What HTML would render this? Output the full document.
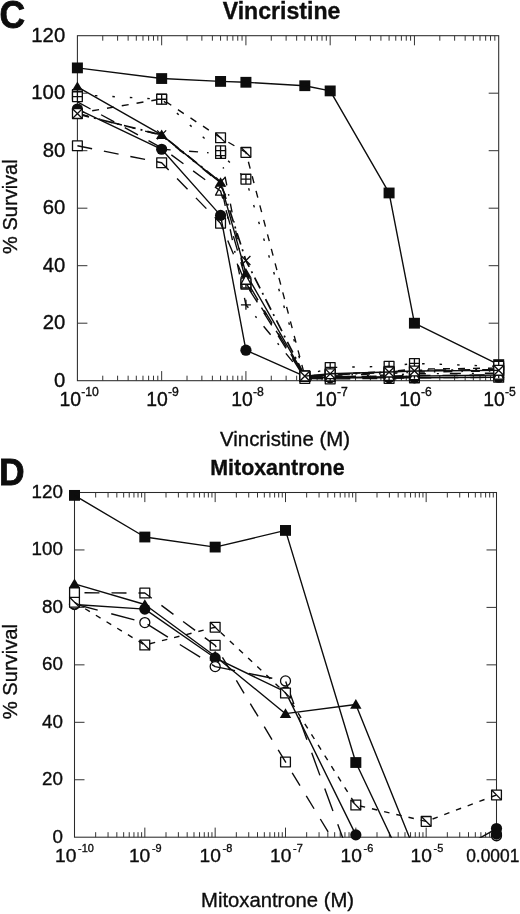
<!DOCTYPE html>
<html lang="en"><head><meta charset="utf-8"><title>Vincristine / Mitoxantrone survival curves</title>
<style>
html,body{margin:0;padding:0;background:#fff;}
body{width:520px;height:914px;overflow:hidden;}
svg{display:block;}
text{font-family:"Liberation Sans",Arial,Helvetica,sans-serif;fill:#0d0d0d;stroke:#0d0d0d;stroke-width:0.35px;}
.title{font-weight:bold;}
.letter{font-weight:bold;stroke-width:0.8px;}
.om{fill:#fff;stroke:#0d0d0d;stroke-width:1.3;}
.ol{fill:none;stroke:#0d0d0d;stroke-width:1.3;}
</style></head><body>
<svg width="520" height="914" viewBox="0 0 520 914">
<rect width="520" height="914" fill="#fff"/>
<g id="C">
<clipPath id="clipC"><rect x="69.4" y="27.7" width="437.3" height="353.6"/></clipPath>
<rect x="77.4" y="35.7" width="421.3" height="345" fill="none" stroke="#2a2a2a" stroke-width="1.05"/>
<path d="M102.76 35.7v5M102.76 380.7v-5M117.6 35.7v5M117.6 380.7v-5M128.13 35.7v5M128.13 380.7v-5M136.3 35.7v5M136.3 380.7v-5M142.97 35.7v5M142.97 380.7v-5M148.61 35.7v5M148.61 380.7v-5M153.49 35.7v5M153.49 380.7v-5M157.8 35.7v5M157.8 380.7v-5M161.66 35.7v9.6M161.66 380.7v-9.6M187.02 35.7v5M187.02 380.7v-5M201.86 35.7v5M201.86 380.7v-5M212.39 35.7v5M212.39 380.7v-5M220.56 35.7v5M220.56 380.7v-5M227.23 35.7v5M227.23 380.7v-5M232.87 35.7v5M232.87 380.7v-5M237.75 35.7v5M237.75 380.7v-5M242.06 35.7v5M242.06 380.7v-5M245.92 35.7v9.6M245.92 380.7v-9.6M271.28 35.7v5M271.28 380.7v-5M286.12 35.7v5M286.12 380.7v-5M296.65 35.7v5M296.65 380.7v-5M304.82 35.7v5M304.82 380.7v-5M311.49 35.7v5M311.49 380.7v-5M317.13 35.7v5M317.13 380.7v-5M322.01 35.7v5M322.01 380.7v-5M326.32 35.7v5M326.32 380.7v-5M330.18 35.7v9.6M330.18 380.7v-9.6M355.54 35.7v5M355.54 380.7v-5M370.38 35.7v5M370.38 380.7v-5M380.91 35.7v5M380.91 380.7v-5M389.08 35.7v5M389.08 380.7v-5M395.75 35.7v5M395.75 380.7v-5M401.39 35.7v5M401.39 380.7v-5M406.27 35.7v5M406.27 380.7v-5M410.58 35.7v5M410.58 380.7v-5M414.44 35.7v9.6M414.44 380.7v-9.6M439.8 35.7v5M439.8 380.7v-5M454.64 35.7v5M454.64 380.7v-5M465.17 35.7v5M465.17 380.7v-5M473.34 35.7v5M473.34 380.7v-5M480.01 35.7v5M480.01 380.7v-5M485.65 35.7v5M485.65 380.7v-5M490.53 35.7v5M490.53 380.7v-5M494.84 35.7v5M494.84 380.7v-5M77.4 323.2h10M498.7 323.2h-10M77.4 265.7h10M498.7 265.7h-10M77.4 208.2h10M498.7 208.2h-10M77.4 150.7h10M498.7 150.7h-10M77.4 93.2h10M498.7 93.2h-10" stroke="#333" stroke-width="1" fill="none"/>
<text x="65.2" y="386.7" text-anchor="end" font-size="20.3">0</text>
<text x="65.2" y="329.2" text-anchor="end" font-size="20.3">20</text>
<text x="65.2" y="271.7" text-anchor="end" font-size="20.3">40</text>
<text x="65.2" y="214.2" text-anchor="end" font-size="20.3">60</text>
<text x="65.2" y="156.7" text-anchor="end" font-size="20.3">80</text>
<text x="65.2" y="99.2" text-anchor="end" font-size="20.3">100</text>
<text x="65.2" y="41.7" text-anchor="end" font-size="20.3">120</text>
<text x="59.4" y="406.1" font-size="19.4">10<tspan dy="-10.3" dx="0.2" font-size="12.2">-10</tspan></text>
<text x="146.2" y="406.1" font-size="19.4">10<tspan dy="-10.3" dx="0.2" font-size="12.2">-9</tspan></text>
<text x="231.2" y="406.1" font-size="19.4">10<tspan dy="-10.3" dx="0.2" font-size="12.2">-8</tspan></text>
<text x="315.2" y="406.1" font-size="19.4">10<tspan dy="-10.3" dx="0.2" font-size="12.2">-7</tspan></text>
<text x="399.2" y="406.1" font-size="19.4">10<tspan dy="-10.3" dx="0.2" font-size="12.2">-6</tspan></text>
<text x="483.2" y="406.1" font-size="19.4">10<tspan dy="-10.3" dx="0.2" font-size="12.2">-5</tspan></text>
<g fill="none" stroke="#0d0d0d" stroke-width="1.4" stroke-linejoin="round">
<g stroke="none"><rect x="72.5" y="140.91" width="9.8" height="9.8" class="om"/><rect x="156.76" y="157.87" width="9.8" height="9.8" class="om"/><rect x="215.66" y="218.25" width="9.8" height="9.8" class="om"/><rect x="241.02" y="279.2" width="9.8" height="9.8" class="om"/><rect x="299.92" y="373.5" width="9.8" height="9.8" class="om"/><rect x="325.28" y="374.07" width="9.8" height="9.8" class="om"/><rect x="384.18" y="373.5" width="9.8" height="9.8" class="om"/><rect x="409.54" y="372.93" width="9.8" height="9.8" class="om"/><rect x="493.8" y="372.35" width="9.8" height="9.8" class="om"/></g>
<path clip-path="url(#clipC)" d="M77.4 145.81L161.66 162.77L220.56 223.15L245.92 284.1L304.82 378.4L330.18 378.97L389.08 378.4L414.44 377.82L498.7 377.25" stroke-dasharray="15 12"/>
<g stroke="none"><rect x="71.9" y="62.5" width="11" height="10.8" fill="#0d0d0d"/><rect x="156.16" y="73.14" width="11" height="10.8" fill="#0d0d0d"/><rect x="215.06" y="76.01" width="11" height="10.8" fill="#0d0d0d"/><rect x="240.42" y="76.87" width="11" height="10.8" fill="#0d0d0d"/><rect x="299.32" y="80.32" width="11" height="10.8" fill="#0d0d0d"/><rect x="324.68" y="85.5" width="11" height="10.8" fill="#0d0d0d"/><rect x="383.58" y="187.56" width="11" height="10.8" fill="#0d0d0d"/><rect x="408.94" y="317.8" width="11" height="10.8" fill="#0d0d0d"/><rect x="493.2" y="359.2" width="11" height="10.8" fill="#0d0d0d"/></g>
<path clip-path="url(#clipC)" d="M77.4 67.9L161.66 78.54L220.56 81.41L245.92 82.27L304.82 85.72L330.18 90.9L389.08 192.96L414.44 323.2L498.7 364.6"/>
<g stroke="none"><path d="M77.4 81.47L83.1 91.08L71.7 91.08Z" fill="#0d0d0d"/><path d="M161.66 129.49L167.36 139.09L155.96 139.09Z" fill="#0d0d0d"/><path d="M220.56 177.21L226.26 186.81L214.86 186.81Z" fill="#0d0d0d"/><path d="M245.92 268.06L251.62 277.66L240.22 277.66Z" fill="#0d0d0d"/><path d="M304.82 370.99L310.52 380.59L299.12 380.59Z" fill="#0d0d0d"/><path d="M330.18 372.43L335.88 382.02L324.48 382.02Z" fill="#0d0d0d"/><path d="M389.08 371.28L394.78 380.88L383.38 380.88Z" fill="#0d0d0d"/><path d="M414.44 370.7L420.14 380.3L408.74 380.3Z" fill="#0d0d0d"/><path d="M498.7 369.55L504.4 379.15L493 379.15Z" fill="#0d0d0d"/></g>
<path clip-path="url(#clipC)" d="M77.4 86.88L161.66 134.89L220.56 182.61L245.92 273.46L304.82 376.39L330.18 377.82L389.08 376.68L414.44 376.1L498.7 374.95"/>
<g stroke="none"><circle cx="77.4" cy="109.01" r="5.6" fill="#0d0d0d"/><circle cx="161.66" cy="149.26" r="5.6" fill="#0d0d0d"/><circle cx="220.56" cy="215.39" r="5.6" fill="#0d0d0d"/><circle cx="245.92" cy="350.22" r="5.6" fill="#0d0d0d"/><circle cx="304.82" cy="376.39" r="5.6" fill="#0d0d0d"/><circle cx="330.18" cy="377.82" r="5.6" fill="#0d0d0d"/><circle cx="389.08" cy="377.82" r="5.6" fill="#0d0d0d"/><circle cx="414.44" cy="377.82" r="5.6" fill="#0d0d0d"/><circle cx="498.7" cy="377.25" r="5.6" fill="#0d0d0d"/></g>
<path clip-path="url(#clipC)" d="M77.4 109.01L161.66 149.26L220.56 215.39L245.92 350.22L304.82 376.39L330.18 377.82L389.08 377.82L414.44 377.82L498.7 377.25"/>
<g stroke="none"><g><rect x="156.76" y="94.05" width="9.8" height="9.8" class="om"/><path d="M156.76 94.05L166.56 103.85" class="ol"/></g><g><rect x="215.66" y="132.86" width="9.8" height="9.8" class="om"/><path d="M215.66 132.86L225.46 142.66" class="ol"/></g><g><rect x="241.02" y="147.52" width="9.8" height="9.8" class="om"/><path d="M241.02 147.52L250.82 157.32" class="ol"/></g><g><rect x="299.92" y="371.2" width="9.8" height="9.8" class="om"/><path d="M299.92 371.2L309.72 381" class="ol"/></g><g><rect x="325.28" y="369.48" width="9.8" height="9.8" class="om"/><path d="M325.28 369.48L335.08 379.27" class="ol"/></g><g><rect x="384.18" y="366.6" width="9.8" height="9.8" class="om"/><path d="M384.18 366.6L393.98 376.4" class="ol"/></g><g><rect x="409.54" y="364.3" width="9.8" height="9.8" class="om"/><path d="M409.54 364.3L419.34 374.1" class="ol"/></g><g><rect x="493.8" y="363.15" width="9.8" height="9.8" class="om"/><path d="M493.8 363.15L503.6 372.95" class="ol"/></g></g>
<path clip-path="url(#clipC)" d="M77.4 113.32L161.66 98.95L220.56 137.76L245.92 152.42L304.82 376.1L330.18 374.38L389.08 371.5L414.44 369.2L498.7 368.05" stroke-dasharray="7 8"/>
<g stroke="none"><g><rect x="72.5" y="89.74" width="9.8" height="9.8" class="om"/><path d="M72.5 94.64H82.3M77.4 89.74V99.54" class="ol"/></g><g><rect x="156.76" y="94.34" width="9.8" height="9.8" class="om"/><path d="M156.76 99.24H166.56M161.66 94.34V104.14" class="ol"/></g><g><rect x="215.66" y="148.1" width="9.8" height="9.8" class="om"/><path d="M215.66 153H225.46M220.56 148.1V157.9" class="ol"/></g><g><rect x="241.02" y="174.26" width="9.8" height="9.8" class="om"/><path d="M241.02 179.16H250.82M245.92 174.26V184.06" class="ol"/></g><g><rect x="299.92" y="371.2" width="9.8" height="9.8" class="om"/><path d="M299.92 376.1H309.72M304.82 371.2V381" class="ol"/></g><g><rect x="325.28" y="362.57" width="9.8" height="9.8" class="om"/><path d="M325.28 367.47H335.08M330.18 362.57V372.37" class="ol"/></g><g><rect x="384.18" y="361.43" width="9.8" height="9.8" class="om"/><path d="M384.18 366.32H393.98M389.08 361.43V371.22" class="ol"/></g><g><rect x="409.54" y="358.55" width="9.8" height="9.8" class="om"/><path d="M409.54 363.45H419.34M414.44 358.55V368.35" class="ol"/></g><g><rect x="493.8" y="361.43" width="9.8" height="9.8" class="om"/><path d="M493.8 366.32H503.6M498.7 361.43V371.22" class="ol"/></g></g>
<path clip-path="url(#clipC)" d="M77.4 94.64L161.66 99.24L220.56 153L245.92 179.16L304.82 376.1L330.18 367.47L389.08 366.32L414.44 363.45L498.7 366.32" stroke-dasharray="2.5 15"/>
<g stroke="none"><g><rect x="215.66" y="148.67" width="9.8" height="9.8" class="om"/><path d="M215.66 153.57H225.46M220.56 148.67V158.47" class="ol"/></g><g><rect x="241.02" y="278.05" width="9.8" height="9.8" class="om"/><path d="M241.02 282.95H250.82M245.92 278.05V287.85" class="ol"/></g><g><rect x="299.92" y="371.49" width="9.8" height="9.8" class="om"/><path d="M299.92 376.39H309.72M304.82 371.49V381.29" class="ol"/></g><g><rect x="325.28" y="370.62" width="9.8" height="9.8" class="om"/><path d="M325.28 375.52H335.08M330.18 370.62V380.42" class="ol"/></g><g><rect x="384.18" y="368.61" width="9.8" height="9.8" class="om"/><path d="M384.18 373.51H393.98M389.08 368.61V378.41" class="ol"/></g><g><rect x="409.54" y="367.18" width="9.8" height="9.8" class="om"/><path d="M409.54 372.07H419.34M414.44 367.18V376.97" class="ol"/></g><g><rect x="493.8" y="366.03" width="9.8" height="9.8" class="om"/><path d="M493.8 370.93H503.6M498.7 366.03V375.82" class="ol"/></g></g>
<path clip-path="url(#clipC)" d="M161.66 149.26L220.56 153.57L245.92 282.95L304.82 376.39L330.18 375.52L389.08 373.51L414.44 372.07L498.7 370.93" stroke-dasharray="9 9 1.5 8"/>
<g stroke="none"><g><rect x="72.5" y="91.75" width="9.8" height="9.8" class="om"/><path d="M72.5 96.65H82.3M77.4 91.75V101.55" class="ol"/></g><g><rect x="215.66" y="145.8" width="9.8" height="9.8" class="om"/><path d="M215.66 150.7H225.46M220.56 145.8V155.6" class="ol"/></g></g>
<g stroke="none"><path d="M220.56 185.75L225.56 195.15L215.56 195.15Z" class="om"/><path d="M245.92 274.88L250.92 284.27L240.92 284.27Z" class="om"/><path d="M304.82 372.05L309.82 381.45L299.82 381.45Z" class="om"/><path d="M330.18 371.48L335.18 380.88L325.18 380.88Z" class="om"/><path d="M389.08 370.9L394.08 380.3L384.08 380.3Z" class="om"/><path d="M414.44 370.32L419.44 379.72L409.44 379.72Z" class="om"/><path d="M498.7 369.75L503.7 379.15L493.7 379.15Z" class="om"/></g>
<path clip-path="url(#clipC)" d="M77.4 101.82L161.66 147.82L220.56 190.95L245.92 280.07L304.82 377.25L330.18 376.68L389.08 376.1L414.44 375.52L498.7 374.95" stroke-dasharray="15 12"/>
<g stroke="none"><path d="M240.92 304.8H250.92M245.92 299.8V309.8" class="ol"/><path d="M299.82 376.39H309.82M304.82 371.39V381.39" class="ol"/><path d="M325.18 377.25H335.18M330.18 372.25V382.25" class="ol"/><path d="M384.08 374.95H394.08M389.08 369.95V379.95" class="ol"/><path d="M409.44 373.8H419.44M414.44 368.8V378.8" class="ol"/><path d="M493.7 373.22H503.7M498.7 368.22V378.22" class="ol"/></g>
<path clip-path="url(#clipC)" d="M77.4 113.32L161.66 135.46L220.56 183.19L245.92 304.8L304.82 376.39L330.18 377.25L389.08 374.95L414.44 373.8L498.7 373.22" stroke-dasharray="11 11 2 11"/>
<g stroke="none"><path d="M72.9 109.4L81.9 118.4M72.9 118.4L81.9 109.4" class="ol"/><path d="M157.16 130.39L166.16 139.39M157.16 139.39L166.16 130.39" class="ol"/><path d="M216.06 177.54L225.06 186.54M216.06 186.54L225.06 177.54" class="ol"/><path d="M241.42 256.02L250.42 265.02M241.42 265.02L250.42 256.02" class="ol"/><path d="M300.32 371.6L309.32 380.6M300.32 380.6L309.32 371.6" class="ol"/><path d="M325.68 370.45L334.68 379.45M325.68 379.45L334.68 370.45" class="ol"/><path d="M384.58 367.57L393.58 376.57M384.58 376.57L393.58 367.57" class="ol"/><path d="M409.94 365.85L418.94 374.85M409.94 374.85L418.94 365.85" class="ol"/><path d="M494.2 365.27L503.2 374.27M494.2 374.27L503.2 365.27" class="ol"/></g>
<path clip-path="url(#clipC)" d="M77.4 113.9L161.66 134.89L220.56 182.04L245.92 260.52L304.82 376.1L330.18 374.95L389.08 372.07L414.44 370.35L498.7 369.77" stroke-dasharray="12 5 2 5" stroke-width="1.7"/>
<g stroke="none"><g><rect x="72.5" y="108.71" width="9.8" height="9.8" class="om"/><path d="M72.5 108.71L82.3 118.51M72.5 118.51L82.3 108.71" class="ol"/></g><g><rect x="299.92" y="371.2" width="9.8" height="9.8" class="om"/><path d="M299.92 371.2L309.72 381M299.92 381L309.72 371.2" class="ol"/></g><g><rect x="325.28" y="368.9" width="9.8" height="9.8" class="om"/><path d="M325.28 368.9L335.08 378.7M325.28 378.7L335.08 368.9" class="ol"/></g><g><rect x="384.18" y="367.18" width="9.8" height="9.8" class="om"/><path d="M384.18 367.18L393.98 376.97M384.18 376.97L393.98 367.18" class="ol"/></g><g><rect x="409.54" y="366.03" width="9.8" height="9.8" class="om"/><path d="M409.54 366.03L419.34 375.82M409.54 375.82L419.34 366.03" class="ol"/></g><g><rect x="493.8" y="365.45" width="9.8" height="9.8" class="om"/><path d="M493.8 365.45L503.6 375.25M493.8 375.25L503.6 365.45" class="ol"/></g></g>
<path clip-path="url(#clipC)" d="M304.82 376.1L330.18 373.8L389.08 372.07L414.44 370.93L498.7 370.35"/>
</g>
<text transform="translate(-0.6 27.6) scale(0.92 1)" class="letter" font-size="38.6">C</text>
<text x="281.5" y="19.2" text-anchor="middle" class="title" font-size="23.1">Vincristine</text>
<text x="285" y="446.3" text-anchor="middle" font-size="20.4">Vincristine (M)</text>
<text transform="translate(17.4 206.6) rotate(-90)" text-anchor="middle" font-size="20.05">% Survival</text>
</g>
<g id="D">
<clipPath id="clipD"><rect x="66.5" y="484.5" width="438" height="353.3"/></clipPath>
<rect x="74.5" y="492.5" width="422" height="344.7" fill="none" stroke="#2a2a2a" stroke-width="1.05"/>
<path d="M95.67 492.5v5M95.67 837.2v-5M108.06 492.5v5M108.06 837.2v-5M116.84 492.5v5M116.84 837.2v-5M123.66 492.5v5M123.66 837.2v-5M129.23 492.5v5M129.23 837.2v-5M133.94 492.5v5M133.94 837.2v-5M138.02 492.5v5M138.02 837.2v-5M141.62 492.5v5M141.62 837.2v-5M144.83 492.5v9.6M144.83 837.2v-9.6M166.01 492.5v5M166.01 837.2v-5M178.39 492.5v5M178.39 837.2v-5M187.18 492.5v5M187.18 837.2v-5M193.99 492.5v5M193.99 837.2v-5M199.56 492.5v5M199.56 837.2v-5M204.27 492.5v5M204.27 837.2v-5M208.35 492.5v5M208.35 837.2v-5M211.95 492.5v5M211.95 837.2v-5M215.17 492.5v9.6M215.17 837.2v-9.6M236.34 492.5v5M236.34 837.2v-5M248.72 492.5v5M248.72 837.2v-5M257.51 492.5v5M257.51 837.2v-5M264.33 492.5v5M264.33 837.2v-5M269.9 492.5v5M269.9 837.2v-5M274.61 492.5v5M274.61 837.2v-5M278.68 492.5v5M278.68 837.2v-5M282.28 492.5v5M282.28 837.2v-5M285.5 492.5v9.6M285.5 837.2v-9.6M306.67 492.5v5M306.67 837.2v-5M319.06 492.5v5M319.06 837.2v-5M327.84 492.5v5M327.84 837.2v-5M334.66 492.5v5M334.66 837.2v-5M340.23 492.5v5M340.23 837.2v-5M344.94 492.5v5M344.94 837.2v-5M349.02 492.5v5M349.02 837.2v-5M352.62 492.5v5M352.62 837.2v-5M355.83 492.5v9.6M355.83 837.2v-9.6M377.01 492.5v5M377.01 837.2v-5M389.39 492.5v5M389.39 837.2v-5M398.18 492.5v5M398.18 837.2v-5M404.99 492.5v5M404.99 837.2v-5M410.56 492.5v5M410.56 837.2v-5M415.27 492.5v5M415.27 837.2v-5M419.35 492.5v5M419.35 837.2v-5M422.95 492.5v5M422.95 837.2v-5M426.17 492.5v9.6M426.17 837.2v-9.6M447.34 492.5v5M447.34 837.2v-5M459.72 492.5v5M459.72 837.2v-5M468.51 492.5v5M468.51 837.2v-5M475.33 492.5v5M475.33 837.2v-5M480.9 492.5v5M480.9 837.2v-5M485.61 492.5v5M485.61 837.2v-5M489.68 492.5v5M489.68 837.2v-5M493.28 492.5v5M493.28 837.2v-5M74.5 779.75h10M496.5 779.75h-10M74.5 722.3h10M496.5 722.3h-10M74.5 664.85h10M496.5 664.85h-10M74.5 607.4h10M496.5 607.4h-10M74.5 549.95h10M496.5 549.95h-10" stroke="#333" stroke-width="1" fill="none"/>
<text x="62.9" y="842.5" text-anchor="end" font-size="18.8">0</text>
<text x="62.9" y="785.05" text-anchor="end" font-size="18.8">20</text>
<text x="62.9" y="727.6" text-anchor="end" font-size="18.8">40</text>
<text x="62.9" y="670.15" text-anchor="end" font-size="18.8">60</text>
<text x="62.9" y="612.7" text-anchor="end" font-size="18.8">80</text>
<text x="62.9" y="555.25" text-anchor="end" font-size="18.8">100</text>
<text x="62.9" y="497.8" text-anchor="end" font-size="18.8">120</text>
<text x="55" y="861.9" font-size="19.2">10<tspan dy="-10.2" dx="1.7" font-size="10.9">-10</tspan></text>
<text x="128.9" y="861.9" font-size="19.2">10<tspan dy="-10.2" dx="1.7" font-size="10.9">-9</tspan></text>
<text x="199.5" y="861.9" font-size="19.2">10<tspan dy="-10.2" dx="1.7" font-size="10.9">-8</tspan></text>
<text x="270" y="861.9" font-size="19.2">10<tspan dy="-10.2" dx="1.7" font-size="10.9">-7</tspan></text>
<text x="340.5" y="861.9" font-size="19.2">10<tspan dy="-10.2" dx="1.7" font-size="10.9">-6</tspan></text>
<text x="410.5" y="861.9" font-size="19.2">10<tspan dy="-10.2" dx="1.7" font-size="10.9">-5</tspan></text>
<text x="466.2" y="861.9" font-size="18.4" textLength="53.2" lengthAdjust="spacingAndGlyphs">0.0001</text>
<g fill="none" stroke="#0d0d0d" stroke-width="1.4" stroke-linejoin="round">
<g stroke="none"><circle cx="74.5" cy="604.53" r="5.6" fill="#0d0d0d"/><circle cx="144.83" cy="609.12" r="5.6" fill="#0d0d0d"/><circle cx="215.17" cy="657.96" r="5.6" fill="#0d0d0d"/><circle cx="285.5" cy="691.85" r="5.6" fill="#0d0d0d"/><circle cx="355.83" cy="834.9" r="5.6" fill="#0d0d0d"/></g>
<path clip-path="url(#clipD)" d="M74.5 604.53L144.83 609.12L215.17 657.96L285.5 691.85L355.83 834.9"/>
<g stroke="none"><circle cx="74.5" cy="603.95" r="5" class="om"/><circle cx="144.83" cy="622.62" r="5" class="om"/><circle cx="215.17" cy="666.57" r="5" class="om"/><circle cx="285.5" cy="680.94" r="5" class="om"/></g>
<path clip-path="url(#clipD)" d="M74.5 603.95L144.83 622.62L215.17 666.57L285.5 680.94L344.05 841.51" stroke-dasharray="24 14"/>
<g stroke="none"><circle cx="496.5" cy="835.76" r="5" class="om"/></g>
<g stroke="none"><rect x="69.6" y="587.85" width="9.8" height="9.8" class="om"/><rect x="139.93" y="588.14" width="9.8" height="9.8" class="om"/><rect x="210.27" y="640.42" width="9.8" height="9.8" class="om"/><rect x="280.6" y="757.04" width="9.8" height="9.8" class="om"/></g>
<path clip-path="url(#clipD)" d="M74.5 592.75L144.83 593.04L215.17 645.32L285.5 761.94L334.04 841.51" stroke-dasharray="15 12" stroke-dashoffset="17"/>
<g stroke="none"><g><rect x="69.6" y="597.33" width="9.8" height="9.8" class="om"/><path d="M69.6 597.33L79.4 607.13" class="ol"/></g><g><rect x="139.93" y="640.13" width="9.8" height="9.8" class="om"/><path d="M139.93 640.13L149.73 649.93" class="ol"/></g><g><rect x="210.27" y="622.32" width="9.8" height="9.8" class="om"/><path d="M210.27 622.32L220.07 632.12" class="ol"/></g><g><rect x="280.6" y="688.1" width="9.8" height="9.8" class="om"/><path d="M280.6 688.1L290.4 697.9" class="ol"/></g><g><rect x="350.93" y="800.13" width="9.8" height="9.8" class="om"/><path d="M350.93 800.13L360.73 809.93" class="ol"/></g><g><rect x="421.27" y="816.5" width="9.8" height="9.8" class="om"/><path d="M421.27 816.5L431.07 826.3" class="ol"/></g><g><rect x="491.6" y="790.07" width="9.8" height="9.8" class="om"/><path d="M491.6 790.07L501.4 799.87" class="ol"/></g></g>
<path clip-path="url(#clipD)" d="M74.5 602.23L144.83 645.03L215.17 627.22L285.5 693L355.83 805.03L426.17 821.4L496.5 794.97" stroke-dasharray="5.5 7"/>
<g stroke="none"><circle cx="496.5" cy="834.04" r="5.6" fill="#0d0d0d"/></g>
<g stroke="none"><circle cx="496.5" cy="828.58" r="5.6" fill="#0d0d0d"/></g>
<path clip-path="url(#clipD)" d="M478.24 838.92L496.5 828.58"/>
<g stroke="none"><path d="M74.5 578.45L80.2 588.05L68.8 588.05Z" fill="#0d0d0d"/><path d="M144.83 599.13L150.53 608.73L139.13 608.73Z" fill="#0d0d0d"/><path d="M215.17 650.83L220.87 660.43L209.47 660.43Z" fill="#0d0d0d"/><path d="M285.5 708.28L291.2 717.88L279.8 717.88Z" fill="#0d0d0d"/><path d="M355.83 699.09L361.53 708.69L350.13 708.69Z" fill="#0d0d0d"/></g>
<path clip-path="url(#clipD)" d="M74.5 583.85L144.83 604.53L215.17 656.23L285.5 713.68L355.83 704.49L411.07 841.51"/>
<g stroke="none"><rect x="69" y="489.97" width="11" height="10.8" fill="#0d0d0d"/><rect x="139.33" y="531.62" width="11" height="10.8" fill="#0d0d0d"/><rect x="209.67" y="541.68" width="11" height="10.8" fill="#0d0d0d"/><rect x="280" y="525.02" width="11" height="10.8" fill="#0d0d0d"/><rect x="350.33" y="757.12" width="11" height="10.8" fill="#0d0d0d"/></g>
<path clip-path="url(#clipD)" d="M74.5 495.37L144.83 537.02L215.17 547.08L285.5 530.42L355.83 762.52L393.21 841.51"/>
</g>
<text transform="translate(-1 485) scale(0.945 1)" class="letter" font-size="37.5">D</text>
<text x="277.4" y="475.3" text-anchor="middle" class="title" font-size="21.4">Mitoxantrone</text>
<text x="277.6" y="907.3" text-anchor="middle" font-size="20.25">Mitoxantrone (M)</text>
<text transform="translate(17.3 671.7) rotate(-90)" text-anchor="middle" font-size="20.2">% Survival</text>
</g>
</svg></body></html>
